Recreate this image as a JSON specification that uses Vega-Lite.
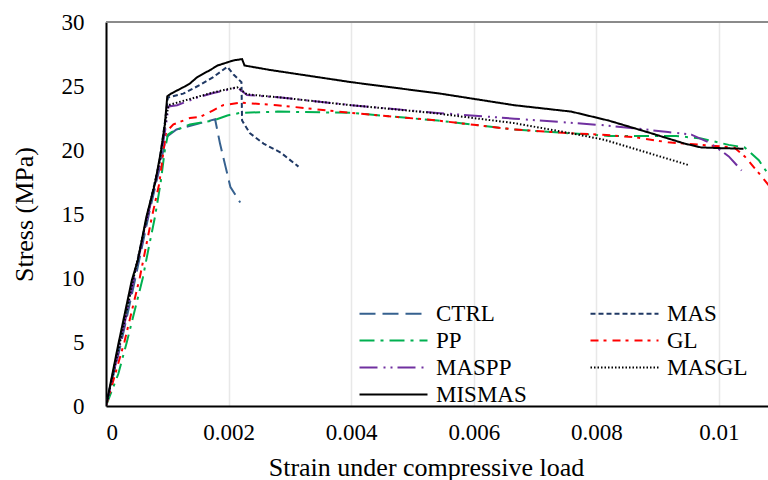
{
  "$schema": "https://vega.github.io/schema/vega-lite/v6.json",
  "width": 662,
  "height": 384,
  "autosize": {"type": "none"},
  "padding": {"left": 106, "top": 22, "right": 0, "bottom": 74},
  "background": "white",
  "config": {
    "view": {"stroke": null},
    "font": "Liberation Serif",
    "axis": {
      "labelFont": "Liberation Serif",
      "labelFontSize": 23,
      "labelColor": "black",
      "titleFont": "Liberation Serif",
      "titleFontSize": 26,
      "titleFontWeight": "normal",
      "titleColor": "black",
      "domainColor": "black",
      "domainWidth": 2,
      "ticks": false,
      "tickSize": 0,
      "gridColor": "#e8e8e8",
      "gridWidth": 1.5
    },
    "legend": {
      "orient": "none",
      "legendX": 276,
      "legendY": 280,
      "columns": 2,
      "direction": "horizontal",
      "symbolType": "M-3.4,0L3.4,0",
      "symbolSize": 400,
      "symbolStrokeWidth": 2,
      "labelFont": "Liberation Serif",
      "labelFontSize": 23,
      "labelColor": "black",
      "columnPadding": 59,
      "rowPadding": 3,
      "labelOffset": 31,
      "padding": 0
    }
  },
  "data": {
    "values": [
      {"s": "CTRL", "x": 0, "y": 0},
      {"s": "CTRL", "x": 0.00025, "y": 5},
      {"s": "CTRL", "x": 0.00048, "y": 10},
      {"s": "CTRL", "x": 0.0007, "y": 15},
      {"s": "CTRL", "x": 0.00087, "y": 18.5},
      {"s": "CTRL", "x": 0.00098, "y": 21},
      {"s": "CTRL", "x": 0.00115, "y": 21.6},
      {"s": "CTRL", "x": 0.00154, "y": 22.1},
      {"s": "CTRL", "x": 0.00178, "y": 22.4},
      {"s": "CTRL", "x": 0.00186, "y": 20.5},
      {"s": "CTRL", "x": 0.00195, "y": 18.7},
      {"s": "CTRL", "x": 0.00203, "y": 17.1},
      {"s": "CTRL", "x": 0.00219, "y": 15.9},

      {"s": "MAS", "x": 0, "y": 0},
      {"s": "MAS", "x": 0.00022, "y": 5},
      {"s": "MAS", "x": 0.00045, "y": 10},
      {"s": "MAS", "x": 0.00068, "y": 15},
      {"s": "MAS", "x": 0.00087, "y": 19},
      {"s": "MAS", "x": 0.00097, "y": 22.5},
      {"s": "MAS", "x": 0.00101, "y": 24.1},
      {"s": "MAS", "x": 0.00126, "y": 24.4},
      {"s": "MAS", "x": 0.00154, "y": 25.1},
      {"s": "MAS", "x": 0.00175, "y": 25.7},
      {"s": "MAS", "x": 0.00198, "y": 26.5},
      {"s": "MAS", "x": 0.00208, "y": 25.9},
      {"s": "MAS", "x": 0.00221, "y": 25.3},
      {"s": "MAS", "x": 0.00222, "y": 22.3},
      {"s": "MAS", "x": 0.00235, "y": 21.3},
      {"s": "MAS", "x": 0.00257, "y": 20.5},
      {"s": "MAS", "x": 0.00285, "y": 19.8},
      {"s": "MAS", "x": 0.00314, "y": 18.7},

      {"s": "PP", "x": 0, "y": 0},
      {"s": "PP", "x": 0.0002, "y": 2.5},
      {"s": "PP", "x": 0.00034, "y": 5},
      {"s": "PP", "x": 0.0006, "y": 10},
      {"s": "PP", "x": 0.00069, "y": 12.2},
      {"s": "PP", "x": 0.0008, "y": 14.8},
      {"s": "PP", "x": 0.00089, "y": 17.4},
      {"s": "PP", "x": 0.00096, "y": 20},
      {"s": "PP", "x": 0.00101, "y": 21.2},
      {"s": "PP", "x": 0.00107, "y": 21.4},
      {"s": "PP", "x": 0.00137, "y": 22.0},
      {"s": "PP", "x": 0.00175, "y": 22.3},
      {"s": "PP", "x": 0.00198, "y": 22.7},
      {"s": "PP", "x": 0.00219, "y": 22.9},
      {"s": "PP", "x": 0.0028, "y": 23.0},
      {"s": "PP", "x": 0.004, "y": 22.9},
      {"s": "PP", "x": 0.00541, "y": 22.3},
      {"s": "PP", "x": 0.00666, "y": 21.6},
      {"s": "PP", "x": 0.00759, "y": 21.3},
      {"s": "PP", "x": 0.0082, "y": 21.1},
      {"s": "PP", "x": 0.0093, "y": 21.1},
      {"s": "PP", "x": 0.00971, "y": 20.9},
      {"s": "PP", "x": 0.01016, "y": 20.4},
      {"s": "PP", "x": 0.01042, "y": 20.2},
      {"s": "PP", "x": 0.01065, "y": 19.2},
      {"s": "PP", "x": 0.01082, "y": 18.0},

      {"s": "GL", "x": 0, "y": 0},
      {"s": "GL", "x": 0.0003, "y": 5},
      {"s": "GL", "x": 0.00055, "y": 10},
      {"s": "GL", "x": 0.00075, "y": 14.8},
      {"s": "GL", "x": 0.00087, "y": 17.4},
      {"s": "GL", "x": 0.00094, "y": 20},
      {"s": "GL", "x": 0.00098, "y": 21.4},
      {"s": "GL", "x": 0.0011, "y": 22.0},
      {"s": "GL", "x": 0.00137, "y": 22.5},
      {"s": "GL", "x": 0.00154, "y": 22.6},
      {"s": "GL", "x": 0.00175, "y": 23.1},
      {"s": "GL", "x": 0.00191, "y": 23.5},
      {"s": "GL", "x": 0.00219, "y": 23.7},
      {"s": "GL", "x": 0.00279, "y": 23.5},
      {"s": "GL", "x": 0.004, "y": 22.9},
      {"s": "GL", "x": 0.00541, "y": 22.3},
      {"s": "GL", "x": 0.00666, "y": 21.6},
      {"s": "GL", "x": 0.00759, "y": 21.3},
      {"s": "GL", "x": 0.00808, "y": 21.2},
      {"s": "GL", "x": 0.00862, "y": 21.0},
      {"s": "GL", "x": 0.00917, "y": 20.6},
      {"s": "GL", "x": 0.00971, "y": 20.4},
      {"s": "GL", "x": 0.01025, "y": 20.2},
      {"s": "GL", "x": 0.01042, "y": 19.5},
      {"s": "GL", "x": 0.01065, "y": 18.2},
      {"s": "GL", "x": 0.01082, "y": 17.2},

      {"s": "MASPP", "x": 0, "y": 0},
      {"s": "MASPP", "x": 0.00024, "y": 5},
      {"s": "MASPP", "x": 0.00046, "y": 10},
      {"s": "MASPP", "x": 0.00069, "y": 15},
      {"s": "MASPP", "x": 0.00088, "y": 19},
      {"s": "MASPP", "x": 0.00098, "y": 22},
      {"s": "MASPP", "x": 0.00102, "y": 23.4},
      {"s": "MASPP", "x": 0.00116, "y": 23.5},
      {"s": "MASPP", "x": 0.00149, "y": 24.1},
      {"s": "MASPP", "x": 0.00175, "y": 24.45},
      {"s": "MASPP", "x": 0.00198, "y": 24.7},
      {"s": "MASPP", "x": 0.00214, "y": 24.9},
      {"s": "MASPP", "x": 0.0023, "y": 24.3},
      {"s": "MASPP", "x": 0.00285, "y": 24.1},
      {"s": "MASPP", "x": 0.004, "y": 23.5},
      {"s": "MASPP", "x": 0.0054, "y": 22.9},
      {"s": "MASPP", "x": 0.00666, "y": 22.45},
      {"s": "MASPP", "x": 0.00808, "y": 21.95},
      {"s": "MASPP", "x": 0.00862, "y": 21.7},
      {"s": "MASPP", "x": 0.00917, "y": 21.4},
      {"s": "MASPP", "x": 0.00955, "y": 21.2},
      {"s": "MASPP", "x": 0.00983, "y": 20.6},
      {"s": "MASPP", "x": 0.00996, "y": 20.2},
      {"s": "MASPP", "x": 0.01016, "y": 19.5},
      {"s": "MASPP", "x": 0.01037, "y": 18.4},

      {"s": "MASGL", "x": 0, "y": 0},
      {"s": "MASGL", "x": 0.00023, "y": 5},
      {"s": "MASGL", "x": 0.00045, "y": 10},
      {"s": "MASGL", "x": 0.00068, "y": 15},
      {"s": "MASGL", "x": 0.00087, "y": 19},
      {"s": "MASGL", "x": 0.00098, "y": 22.5},
      {"s": "MASGL", "x": 0.00102, "y": 23.5},
      {"s": "MASGL", "x": 0.00116, "y": 23.7},
      {"s": "MASGL", "x": 0.00149, "y": 24.15},
      {"s": "MASGL", "x": 0.00175, "y": 24.5},
      {"s": "MASGL", "x": 0.00198, "y": 24.75},
      {"s": "MASGL", "x": 0.00214, "y": 24.9},
      {"s": "MASGL", "x": 0.0023, "y": 24.35},
      {"s": "MASGL", "x": 0.00285, "y": 24.1},
      {"s": "MASGL", "x": 0.004, "y": 23.5},
      {"s": "MASGL", "x": 0.00532, "y": 22.9},
      {"s": "MASGL", "x": 0.00666, "y": 22.1},
      {"s": "MASGL", "x": 0.00759, "y": 21.3},
      {"s": "MASGL", "x": 0.00813, "y": 20.8},
      {"s": "MASGL", "x": 0.00952, "y": 18.8},

      {"s": "MISMAS", "x": 0, "y": 0},
      {"s": "MISMAS", "x": 0.0002, "y": 4.8},
      {"s": "MISMAS", "x": 0.00042, "y": 9.8},
      {"s": "MISMAS", "x": 0.00052, "y": 11.4},
      {"s": "MISMAS", "x": 0.00066, "y": 14.8},
      {"s": "MISMAS", "x": 0.0008, "y": 17.4},
      {"s": "MISMAS", "x": 0.0009, "y": 20},
      {"s": "MISMAS", "x": 0.00096, "y": 22},
      {"s": "MISMAS", "x": 0.001, "y": 24.2},
      {"s": "MISMAS", "x": 0.00106, "y": 24.4},
      {"s": "MISMAS", "x": 0.00126, "y": 24.9},
      {"s": "MISMAS", "x": 0.00137, "y": 25.2},
      {"s": "MISMAS", "x": 0.00149, "y": 25.7},
      {"s": "MISMAS", "x": 0.0017, "y": 26.25},
      {"s": "MISMAS", "x": 0.00182, "y": 26.6},
      {"s": "MISMAS", "x": 0.00208, "y": 27.0},
      {"s": "MISMAS", "x": 0.00222, "y": 27.1},
      {"s": "MISMAS", "x": 0.00226, "y": 26.6},
      {"s": "MISMAS", "x": 0.00268, "y": 26.25},
      {"s": "MISMAS", "x": 0.004, "y": 25.3},
      {"s": "MISMAS", "x": 0.00546, "y": 24.4},
      {"s": "MISMAS", "x": 0.00666, "y": 23.5},
      {"s": "MISMAS", "x": 0.00759, "y": 23.0},
      {"s": "MISMAS", "x": 0.0082, "y": 22.3},
      {"s": "MISMAS", "x": 0.0089, "y": 21.3},
      {"s": "MISMAS", "x": 0.00944, "y": 20.5},
      {"s": "MISMAS", "x": 0.00971, "y": 20.2},
      {"s": "MISMAS", "x": 0.00999, "y": 20.15},
      {"s": "MISMAS", "x": 0.0104, "y": 20.1}
    ]
  },
  "layer": [
    {
      "mark": {"type": "rule", "color": "#8a8a8a", "strokeWidth": 1},
      "encoding": {"y": {"datum": 30, "type": "quantitative"}}
    },
    {
      "mark": {"type": "line", "strokeWidth": 2, "clip": true},
      "encoding": {
        "x": {
          "field": "x",
          "type": "quantitative",
          "scale": {"domain": [0, 0.0108], "nice": false, "zero": true},
          "axis": {
            "values": [0, 0.002, 0.004, 0.006, 0.008, 0.01],
            "format": "~g",
            "labelPadding": 15,
            "title": "Strain under compressive load",
            "titleX": 320,
            "titleY": 61,
            "titleBaseline": "middle"
          }
        },
        "y": {
          "field": "y",
          "type": "quantitative",
          "scale": {"domain": [0, 30], "nice": false},
          "axis": {
            "values": [0, 5, 10, 15, 20, 25, 30],
            "labelPadding": 22,
            "title": "Stress (MPa)",
            "titleX": -82,
            "titleY": 192,
            "titleBaseline": "middle",
            "titleAngle": -90
          }
        },
        "color": {
          "field": "s",
          "type": "nominal",
          "scale": {
            "domain": ["CTRL", "MAS", "PP", "GL", "MASPP", "MASGL", "MISMAS"],
            "range": ["#36618F", "#1F3864", "#00B050", "#FF0000", "#7030A0", "#000000", "#000000"]
          },
          "legend": {"title": null}
        },
        "strokeDash": {
          "field": "s",
          "type": "nominal",
          "scale": {
            "domain": ["CTRL", "MAS", "PP", "GL", "MASPP", "MASGL", "MISMAS"],
            "range": [[16, 7], [5, 3], [15, 6, 3, 6], [8, 5, 3, 6], [18, 6, 2, 5, 2, 5], [1.5, 2], [1, 0]]
          },
          "legend": {"title": null}
        }
      }
    }
  ]
}
